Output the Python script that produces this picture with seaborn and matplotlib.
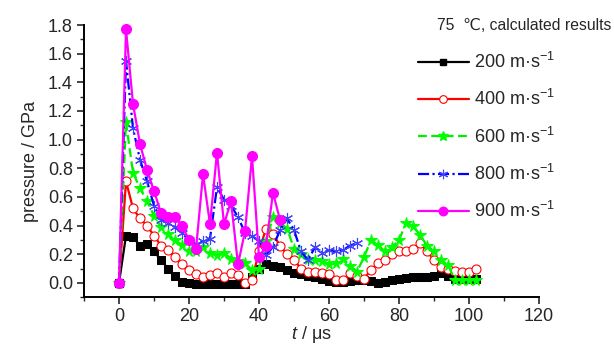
import matplotlib
matplotlib.use('Agg')
import matplotlib.pyplot as plt
import seaborn as sns
import pandas as pd
from matplotlib.ticker import MultipleLocator
from matplotlib.lines import Line2D

# ---------------- data ----------------
t_full = [0, 2, 4, 6, 8, 10, 12, 14, 16, 18, 20, 22, 24, 26, 28, 30, 32, 34, 36, 38,
          40, 42, 44, 46, 48, 50, 52, 54, 56, 58, 60, 62, 64, 66, 68, 70, 72, 74, 76, 78,
          80, 82, 84, 86, 88, 90, 92, 94, 96, 98, 100, 102]

p_200 = [0.0, 0.33, 0.32, 0.26, 0.27, 0.22, 0.16, 0.10, 0.05, 0.01,
         0.0, -0.01, -0.01, -0.01, -0.01, -0.01, -0.01, -0.01, -0.005, 0.04,
         0.10, 0.13, 0.12, 0.11, 0.09, 0.07, 0.06, 0.05, 0.04, 0.03,
         0.015, 0.01, 0.01, 0.015, 0.02, 0.02, 0.015, 0.0, 0.01, 0.02,
         0.03, 0.035, 0.04, 0.04, 0.045, 0.05, 0.07, 0.05, 0.03, 0.03,
         0.03, 0.03]

p_400 = [0.0, 0.71, 0.52, 0.45, 0.40, 0.33, 0.26, 0.23, 0.18, 0.13,
         0.09, 0.06, 0.045, 0.055, 0.07, 0.045, 0.07, 0.055, 0.0, 0.02,
         0.22, 0.38, 0.34, 0.26, 0.20, 0.16, 0.10, 0.08, 0.08, 0.07,
         0.06, 0.02, 0.02, 0.07, 0.05, 0.03, 0.09, 0.14, 0.16, 0.20,
         0.22, 0.22, 0.235, 0.28, 0.22, 0.16, 0.11, 0.095, 0.085, 0.08,
         0.08, 0.10]

p_600 = [0.0, 1.12, 0.77, 0.66, 0.57, 0.47, 0.39, 0.34, 0.30, 0.265,
         0.225, 0.22, 0.25, 0.21, 0.195, 0.21, 0.17, 0.155, 0.14, 0.09,
         0.10, 0.29, 0.46, 0.42, 0.38, 0.24, 0.20, 0.17, 0.16, 0.15,
         0.13, 0.14, 0.17, 0.12, 0.08, 0.18, 0.30, 0.265, 0.22, 0.25,
         0.30, 0.415, 0.40, 0.335, 0.26, 0.22, 0.16, 0.125, 0.02, 0.02,
         0.02, 0.02]

p_800 = [0.0, 1.55, 1.08, 0.86, 0.71, 0.54, 0.44, 0.415, 0.39, 0.35,
         0.30, 0.27, 0.29, 0.31, 0.67, 0.58, 0.54, 0.46, 0.35, 0.33,
         0.29, 0.195, 0.25, 0.37, 0.45, 0.37, 0.22, 0.16, 0.25, 0.21,
         0.23, 0.22, 0.23, 0.26, 0.28]

p_900 = [0.0, 1.77, 1.25, 0.97, 0.79, 0.64, 0.49, 0.46, 0.46, 0.40,
         0.30, 0.235, 0.76, 0.41, 0.91, 0.41, 0.57, 0.13, 0.36, 0.885,
         0.18, 0.26, 0.63, 0.44]

labels = ["200 m·s$^{-1}$", "400 m·s$^{-1}$", "600 m·s$^{-1}$",
          "800 m·s$^{-1}$", "900 m·s$^{-1}$"]
legend_title = "75  ℃, calculated results"

# ---------------- style ----------------
sns.set_style("ticks")
plt.rcParams['font.family'] = ['Liberation Sans', 'DejaVu Sans']
plt.rcParams['mathtext.fontset'] = 'custom'
plt.rcParams['mathtext.rm'] = 'Liberation Sans'
plt.rcParams['mathtext.it'] = 'Liberation Sans:italic'
plt.rcParams['mathtext.bf'] = 'Liberation Sans:bold'

fig = plt.figure(figsize=(6.14, 3.44), dpi=100)
ax = fig.add_axes([84 / 614, 1 - 297.3 / 344, (539 - 84) / 614, (297.3 - 25) / 344])

series = [
    (p_200, 'black', dict(marker='s', markersize=5.2, markerfacecolor='black',
                          markeredgecolor='black', linestyle='-')),
    (p_400, 'red', dict(marker='o', markersize=6.5, markerfacecolor='white',
                        markeredgecolor='red', markeredgewidth=0.8, linestyle='-')),
    (p_600, '#00ee00', dict(marker='*', markersize=8.5, markerfacecolor='#00ff00',
                            markeredgecolor='#00ff00', linestyle=(0, (4, 2)))),
    (p_800, '#0000ff', dict(marker=(6, 2, 0), markersize=8, markerfacecolor='#4040ff',
                            markeredgecolor='#4040ff', markeredgewidth=0.8,
                            linestyle=(0, (5, 1.5, 1, 1.5)))),
    (p_900, '#ff00ff', dict(marker='o', markersize=7.2, markerfacecolor='#ff00ff',
                            markeredgecolor='#ff00ff', linestyle='-')),
]

handles = []
for (vals, col, kw), lab in zip(series, labels):
    df = pd.DataFrame({'t': t_full[:len(vals)], 'p': vals})
    sns.lineplot(data=df, x='t', y='p', ax=ax, color=col, linewidth=1.6,
                 clip_on=False, zorder=3, **kw)
    handles.append(Line2D([], [], color=col, linewidth=1.6, **kw))

ax.set_xlim(-10, 120)
ax.set_ylim(-0.1, 1.8)
ax.xaxis.set_major_locator(MultipleLocator(20))
ax.xaxis.set_minor_locator(MultipleLocator(10))
ax.yaxis.set_major_locator(MultipleLocator(0.2))
ax.yaxis.set_minor_locator(MultipleLocator(0.1))
ax.set_yticks([0.0, 0.2, 0.4, 0.6, 0.8, 1.0, 1.2, 1.4, 1.6, 1.8])
ax.set_yticklabels(["0.0", "0.2", "0.4", "0.6", "0.8", "1.0", "1.2", "1.4", "1.6", "1.8"])
ax.set_xticks([0, 20, 40, 60, 80, 100, 120])
ax.tick_params(which='major', direction='out', length=5, width=1.2, labelsize=13,
               pad=3)
ax.tick_params(which='minor', direction='out', length=3, width=1.0)
for s in ['top', 'right']:
    ax.spines[s].set_visible(False)
for s in ['left', 'bottom']:
    ax.spines[s].set_linewidth(1.4)
    ax.spines[s].set_color('black')

ax.set_xlabel("$t$ / μs", fontsize=13, labelpad=-1)
ax.set_ylabel("pressure / GPa", fontsize=13, labelpad=6)

fig.text(437 / 614, 1 - 25 / 344, legend_title, fontsize=11.3, ha='left', va='center')
leg = fig.legend(handles=handles, labels=labels, loc='upper left',
                 bbox_to_anchor=(418 / 614, 1 - 52 / 344), frameon=False,
                 fontsize=13, handlelength=2.8, handletextpad=0.3,
                 labelspacing=0.95, borderpad=0, borderaxespad=0, markerscale=0.85)

fig.savefig('out.png', dpi=100)
